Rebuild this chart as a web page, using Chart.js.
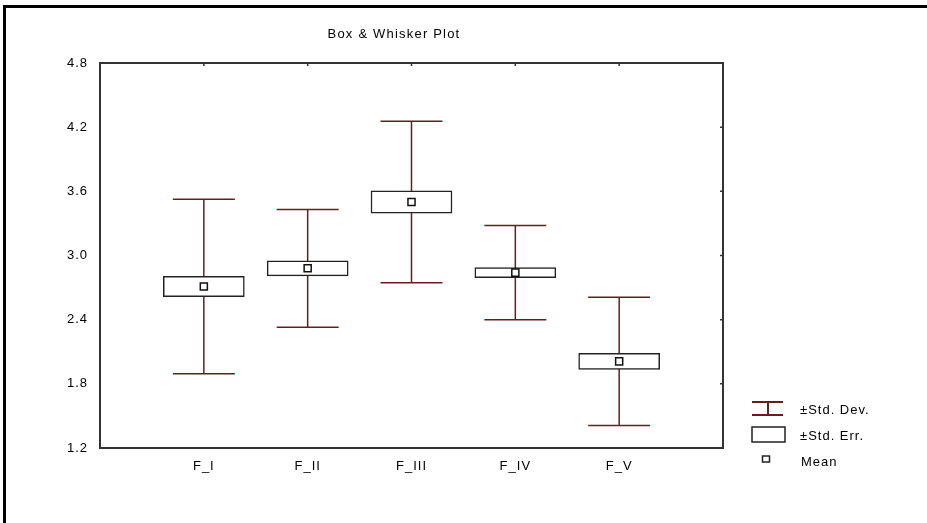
<!DOCTYPE html>
<html>
<head>
<meta charset="UTF-8">
<title>Box & Whisker Plot</title>
<script src="https://cdn.jsdelivr.net/npm/chart.js"></script>
<style>
    body { margin: 0; background: #fff; }
    #wrap { width: 927px; height: 523px; }
</style>
</head>
<body>
<div id="wrap"><canvas id="chart" width="927" height="523"></canvas></div>
<script>
    // data
    const categories = ['F_I', 'F_II', 'F_III', 'F_IV', 'F_V'];
    const means = [2.71, 2.88, 3.50, 2.84, 2.01];
    const stdDev = [0.815, 0.55, 0.755, 0.44, 0.60];
    const stdErr = [0.095, 0.07, 0.105, 0.048, 0.075];
    const yTicks = [1.2, 1.8, 2.4, 3.0, 3.6, 4.2, 4.8];

    const WHISKER = '#6a1c1c';
    const FONT = '"Liberation Sans", Arial, sans-serif';

    // whiskers (mean +- std dev) drawn under the boxes
    const whiskerPlugin = {
        id: 'whiskers',
        beforeDraw(chart) {
            chart.ctx.letterSpacing = '1px';
        },
        beforeDatasetsDraw(chart) {
            const ctx = chart.ctx, x = chart.scales.x, y = chart.scales.y;
            ctx.save();
            ctx.strokeStyle = WHISKER;
            ctx.lineWidth = 1.5;
            categories.forEach((c, i) => {
                const px = x.getPixelForValue(i + 1);
                const top = y.getPixelForValue(means[i] + stdDev[i]);
                const bot = y.getPixelForValue(means[i] - stdDev[i]);
                ctx.beginPath();
                ctx.moveTo(px, top); ctx.lineTo(px, bot);
                ctx.moveTo(px - 31, top); ctx.lineTo(px + 31, top);
                ctx.moveTo(px - 31, bot); ctx.lineTo(px + 31, bot);
                ctx.stroke();
            });
            ctx.restore();
        },
        afterDraw(chart) {
            const ctx = chart.ctx, a = chart.chartArea, x = chart.scales.x, y = chart.scales.y;
            ctx.save();
            // outer frame
            ctx.fillStyle = '#000';
            ctx.fillRect(3, 5, 924, 3);
            ctx.fillRect(3, 5, 3, 518);
            // plot frame
            ctx.strokeStyle = '#333';
            ctx.lineWidth = 2;
            ctx.strokeRect(a.left, a.top, a.right - a.left, a.bottom - a.top);
            ctx.lineWidth = 1.5;
            ctx.beginPath();
            categories.forEach((c, i) => {
                const px = x.getPixelForValue(i + 1);
                ctx.moveTo(px, a.top); ctx.lineTo(px, a.top + 3);
            });
            yTicks.slice(1, -1).forEach(v => {
                const py = y.getPixelForValue(v);
                ctx.moveTo(a.right, py); ctx.lineTo(a.right - 3, py);
            });
            ctx.stroke();
            // title
            ctx.fillStyle = '#000';
            ctx.letterSpacing = '1.2px';
            ctx.font = '13px ' + FONT;
            ctx.textAlign = 'center';
            ctx.textBaseline = 'middle';
            ctx.fillText('Box & Whisker Plot', 394, 34);
            // legend
            ctx.letterSpacing = '1px';
            ctx.textAlign = 'left';
            ctx.strokeStyle = WHISKER;
            ctx.lineWidth = 2;
            ctx.beginPath();
            ctx.moveTo(752, 402); ctx.lineTo(783, 402);
            ctx.moveTo(752, 415); ctx.lineTo(783, 415);
            ctx.moveTo(768, 402); ctx.lineTo(768, 415);
            ctx.stroke();
            ctx.strokeStyle = '#222';
            ctx.lineWidth = 1.5;
            ctx.strokeRect(752, 427, 33, 15);
            ctx.strokeRect(762.5, 456, 7, 6);
            ctx.fillText('±Std. Dev.', 800, 410);
            ctx.fillText('±Std. Err.', 800, 436);
            ctx.fillText('Mean', 801, 462);
            ctx.restore();
        }
    };

    Chart.defaults.font.family = FONT;
    Chart.defaults.font.size = 13;
    Chart.defaults.color = '#000';

    new Chart(document.getElementById('chart'), {
        type: 'bar',
        data: {
            datasets: [{
                type: 'line',
                label: 'Mean',
                data: categories.map((c, i) => ({ x: i + 1, y: means[i] })),
                showLine: false,
                pointStyle: 'rect',
                pointRadius: 5,
                backgroundColor: '#fff',
                borderColor: '#111',
                borderWidth: 1.5,
                order: 0
            }, {
                label: '±Std. Err.',
                data: categories.map((c, i) => ({ x: i + 1, y: [means[i] - stdErr[i], means[i] + stdErr[i]] })),
                backgroundColor: '#fff',
                borderColor: '#222',
                borderWidth: 1.5,
                borderSkipped: false,
                barThickness: 81,
                order: 1
            }]
        },
        options: {
            responsive: false,
            animation: false,
            events: [],
            layout: { padding: { left: 0, top: 63, right: 204, bottom: 0 } },
            plugins: { legend: { display: false }, tooltip: { enabled: false }, title: { display: false } },
            scales: {
                x: {
                    type: 'linear',
                    min: 0,
                    max: 6,
                    offset: false,
                    grid: { display: false, drawTicks: false, offset: false },
                    border: { display: false },
                    ticks: {
                        stepSize: 1,
                        padding: 11,
                        autoSkip: false,
                        maxRotation: 0,
                        callback: v => categories[v - 1] || ''
                    },
                    afterFit: s => { s.height = 75; }
                },
                y: {
                    min: 1.2,
                    max: 4.8,
                    grid: { display: false, drawTicks: false },
                    border: { display: false },
                    afterBuildTicks: s => { s.ticks = yTicks.map(v => ({ value: v })); },
                    ticks: {
                        padding: 12,
                        callback: v => Number(v).toFixed(1)
                    },
                    afterFit: s => { s.width = 100; }
                }
            }
        },
        plugins: [whiskerPlugin]
    });
</script>
</body>
</html>
